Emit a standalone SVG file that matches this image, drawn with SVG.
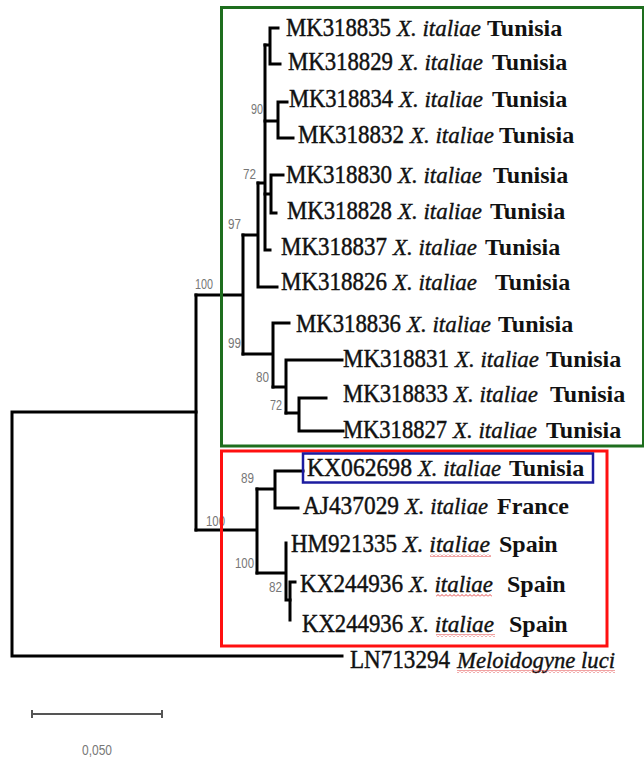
<svg xmlns="http://www.w3.org/2000/svg" width="644" height="759" viewBox="0 0 644 759">
<style>
.acc{font-family:"Liberation Serif","Times New Roman",serif;font-size:25px;fill:#111;stroke:#111;stroke-width:0.45}
.sp{font-family:"Liberation Serif","Times New Roman",serif;font-size:24px;font-style:italic;fill:#111;stroke:#111;stroke-width:0.4}
.ct{font-family:"Liberation Serif","Times New Roman",serif;font-size:24px;font-weight:bold;fill:#111}
.bs{font-family:"Liberation Sans",Arial,sans-serif;font-size:14px;fill:#777}
.br{stroke:#000;stroke-width:3;fill:none;stroke-linecap:square}
.sq{fill:url(#squig)}
</style>
<defs>
<pattern id="squig" x="0" y="0" width="4" height="3" patternUnits="userSpaceOnUse">
<path d="M0 2.5 L2 0.5 L4 2.5" stroke="#e03030" stroke-width="0.9" fill="none"/>
</pattern>
</defs>
<rect width="644" height="759" fill="#fff"/>

<g id="connectors">
<path class="br" d="M12 412 V656 M12 412 H196 M12 656 H342"/>
<path class="br" d="M196 295 V530"/>
<path class="br" d="M196 295 H243 M243 235 V354"/>
<path class="br" d="M243 235 H258 M258 183 V287 M258 287 H277"/>
<path class="br" d="M258 183 H265 M265 45 V250 M265 250 H270"/>
<path class="br" d="M265 45 H270 M270 28 V64 M270 28 H278 M270 64 H280"/>
<path class="br" d="M265 121 H278 M278 102 V138 M278 102 H287 M278 138 H293"/>
<path class="br" d="M265 194 H271 M271 175 V213 M271 175 H283 M271 213 H276"/>
<path class="br" d="M243 354 H273 M273 323 V387 M273 323 H289"/>
<path class="br" d="M273 387 H286 M286 360 V413 M286 360 H342"/>
<path class="br" d="M286 413 H299 M299 398 V431 M299 398 H326 M299 431 H343"/>
<path class="br" d="M196 530 H257 M257 489 V573"/>
<path class="br" d="M257 489 H275 M275 471 V508 M275 471 H303 M275 508 H298"/>
<path class="br" d="M257 573 H286 M286 543 V600 M286 600 H290"/>
<path class="br" d="M290 582 V620 M290 582 H295"/>
</g>

<g id="bootstrap">
<text class="bs" x="195" y="289" textLength="18" lengthAdjust="spacingAndGlyphs">100</text>
<text class="bs" x="228" y="229" textLength="13" lengthAdjust="spacingAndGlyphs">97</text>
<text class="bs" x="243" y="179" textLength="13" lengthAdjust="spacingAndGlyphs">72</text>
<text class="bs" x="251" y="114" textLength="12" lengthAdjust="spacingAndGlyphs">90</text>
<text class="bs" x="228" y="348" textLength="13" lengthAdjust="spacingAndGlyphs">99</text>
<text class="bs" x="256" y="382" textLength="13" lengthAdjust="spacingAndGlyphs">80</text>
<text class="bs" x="270" y="410" textLength="12" lengthAdjust="spacingAndGlyphs">72</text>
<text class="bs" x="241" y="483" textLength="13" lengthAdjust="spacingAndGlyphs">89</text>
<text class="bs" x="206" y="526" textLength="19" lengthAdjust="spacingAndGlyphs">100</text>
<text class="bs" x="235" y="568" textLength="19" lengthAdjust="spacingAndGlyphs">100</text>
<text class="bs" x="269" y="592" textLength="13" lengthAdjust="spacingAndGlyphs">82</text>
</g>

<g id="clade-boxes">
<rect x="221.5" y="7.5" width="422" height="438.5" fill="none" stroke="#1e6e1e" stroke-width="3"/>
<rect x="221.5" y="451" width="385.5" height="195" fill="none" stroke="#ff1010" stroke-width="3"/>
<rect x="303" y="453.5" width="290" height="29" fill="none" stroke="#1c1ca0" stroke-width="2.5"/>
</g>

<g id="leaf-MK318835"><text class="acc" x="286" y="36" textLength="105" lengthAdjust="spacingAndGlyphs">MK318835</text><text class="sp" x="397" y="36" textLength="84" lengthAdjust="spacingAndGlyphs">X. italiae</text><text class="ct" x="487" y="36">Tunisia</text></g>
<g id="leaf-MK318829"><text class="acc" x="288" y="70" textLength="105" lengthAdjust="spacingAndGlyphs">MK318829</text><text class="sp" x="399" y="70" textLength="84" lengthAdjust="spacingAndGlyphs">X. italiae</text><text class="ct" x="492" y="70">Tunisia</text></g>
<g id="leaf-MK318834"><text class="acc" x="289" y="107" textLength="104" lengthAdjust="spacingAndGlyphs">MK318834</text><text class="sp" x="399" y="107" textLength="84" lengthAdjust="spacingAndGlyphs">X. italiae</text><text class="ct" x="492" y="107">Tunisia</text></g>
<g id="leaf-MK318832"><text class="acc" x="298" y="143" textLength="106" lengthAdjust="spacingAndGlyphs">MK318832</text><text class="sp" x="410" y="143" textLength="84" lengthAdjust="spacingAndGlyphs">X. italiae</text><text class="ct" x="499" y="143">Tunisia</text></g>
<g id="leaf-MK318830"><text class="acc" x="286" y="183" textLength="106" lengthAdjust="spacingAndGlyphs">MK318830</text><text class="sp" x="398" y="183" textLength="84" lengthAdjust="spacingAndGlyphs">X. italiae</text><text class="ct" x="493" y="183">Tunisia</text></g>
<g id="leaf-MK318828"><text class="acc" x="287" y="219" textLength="105" lengthAdjust="spacingAndGlyphs">MK318828</text><text class="sp" x="398" y="219" textLength="84" lengthAdjust="spacingAndGlyphs">X. italiae</text><text class="ct" x="490" y="219">Tunisia</text></g>
<g id="leaf-MK318837"><text class="acc" x="281" y="255" textLength="106" lengthAdjust="spacingAndGlyphs">MK318837</text><text class="sp" x="393" y="255" textLength="84" lengthAdjust="spacingAndGlyphs">X. italiae</text><text class="ct" x="485" y="255">Tunisia</text></g>
<g id="leaf-MK318826"><text class="acc" x="281" y="290" textLength="106" lengthAdjust="spacingAndGlyphs">MK318826</text><text class="sp" x="393" y="290" textLength="84" lengthAdjust="spacingAndGlyphs">X. italiae</text><text class="ct" x="495" y="290">Tunisia</text></g>
<g id="leaf-MK318836"><text class="acc" x="296" y="332" textLength="105" lengthAdjust="spacingAndGlyphs">MK318836</text><text class="sp" x="407" y="332" textLength="84" lengthAdjust="spacingAndGlyphs">X. italiae</text><text class="ct" x="498" y="332">Tunisia</text></g>
<g id="leaf-MK318831"><text class="acc" x="343" y="367" textLength="106" lengthAdjust="spacingAndGlyphs">MK318831</text><text class="sp" x="455" y="367" textLength="84" lengthAdjust="spacingAndGlyphs">X. italiae</text><text class="ct" x="546" y="367">Tunisia</text></g>
<g id="leaf-MK318833"><text class="acc" x="343" y="402" textLength="105" lengthAdjust="spacingAndGlyphs">MK318833</text><text class="sp" x="454" y="402" textLength="84" lengthAdjust="spacingAndGlyphs">X. italiae</text><text class="ct" x="550" y="402">Tunisia</text></g>
<g id="leaf-MK318827"><text class="acc" x="343" y="438" textLength="104" lengthAdjust="spacingAndGlyphs">MK318827</text><text class="sp" x="453" y="438" textLength="84" lengthAdjust="spacingAndGlyphs">X. italiae</text><text class="ct" x="546" y="438">Tunisia</text></g>
<g id="leaf-KX062698"><text class="acc" x="307" y="476" textLength="105" lengthAdjust="spacingAndGlyphs">KX062698</text><text class="sp" x="418" y="476" textLength="83" lengthAdjust="spacingAndGlyphs">X. italiae</text><text class="ct" x="509" y="476">Tunisia</text></g>
<g id="leaf-AJ437029"><text class="acc" x="303" y="514" textLength="96" lengthAdjust="spacingAndGlyphs">AJ437029</text><text class="sp" x="405" y="514" textLength="83" lengthAdjust="spacingAndGlyphs">X. italiae</text><text class="ct" x="497" y="514">France</text></g>
<g id="leaf-HM921335"><text class="acc" x="291" y="552" textLength="106" lengthAdjust="spacingAndGlyphs">HM921335</text><text class="sp" x="403" y="552" textLength="87" lengthAdjust="spacingAndGlyphs">X. italiae</text><text class="ct" x="499" y="552">Spain</text><rect class="sq" x="430" y="554" width="61" height="3"/></g>
<g id="leaf-KX244936a"><text class="acc" x="300" y="592" textLength="103" lengthAdjust="spacingAndGlyphs">KX244936</text><text class="sp" x="409" y="592" textLength="84" lengthAdjust="spacingAndGlyphs">X. italiae</text><text class="ct" x="507" y="592">Spain</text><rect class="sq" x="436" y="594" width="56" height="3"/></g>
<g id="leaf-KX244936b"><text class="acc" x="302" y="632" textLength="101" lengthAdjust="spacingAndGlyphs">KX244936</text><text class="sp" x="409" y="632" textLength="85" lengthAdjust="spacingAndGlyphs">X. italiae</text><text class="ct" x="509" y="632">Spain</text><rect class="sq" x="436" y="634" width="59" height="3"/></g>
<g id="leaf-LN713294"><text class="acc" x="350" y="668" textLength="100" lengthAdjust="spacingAndGlyphs">LN713294</text><text class="sp" x="457" y="668" textLength="158" lengthAdjust="spacingAndGlyphs">Meloidogyne luci</text><rect class="sq" x="457" y="670" width="158" height="3"/></g>

<g id="scale-bar">
<path d="M32 714 H162 M32 710 V718 M162 710 V718" stroke="#555" stroke-width="2" fill="none"/>
<text class="bs" x="82" y="755" textLength="30" lengthAdjust="spacingAndGlyphs" font-size="13">0,050</text>
</g>
</svg>
